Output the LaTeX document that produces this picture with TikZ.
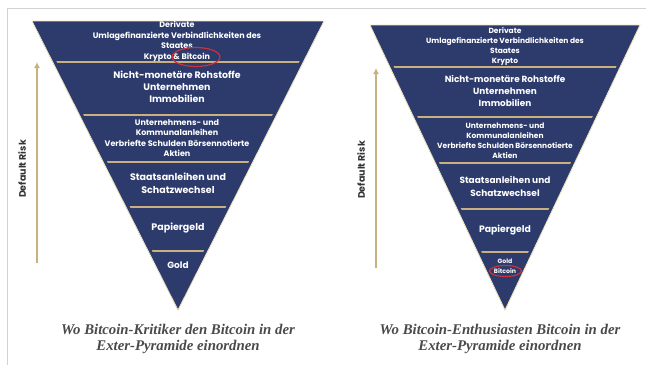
\documentclass[tikz,border=0pt]{standalone}
\usepackage{fontspec}
\setmainfont{Liberation Serif}
\newfontfamily\pyrfont{Poppins}
\definecolor{PyrNavy}{HTML}{2C3A6C}
\definecolor{BandGold}{HTML}{C9B17F}
\definecolor{EdgeCream}{HTML}{EFE6BE}
\definecolor{FrameGray}{HTML}{D2D2D2}
\definecolor{MarkRed}{HTML}{C8333D}
\definecolor{CaptionGray}{HTML}{4A4A4A}
\usetikzlibrary{arrows.meta}
\tikzset{
  band/.style={text=white, align=center, inner sep=0pt, font=\pyrfont\bfseries\fontsize{8}{10.5}\selectfont},
  bigband/.style={band, font=\pyrfont\bfseries\fontsize{9.4}{12}\selectfont},
  midband/.style={band, font=\pyrfont\bfseries\fontsize{9.5}{13}\selectfont},
  sep/.style={draw=BandGold, line width=2pt},
  risk/.style={-{Latex[length=6pt, width=6pt]}, draw=BandGold, line width=1.5pt},
  risklabel/.style={rotate=90, inner sep=0pt, font=\pyrfont\bfseries\fontsize{9.5}{10}\selectfont, text=black!80},
  caption/.style={align=center, inner sep=0pt, text=CaptionGray, font=\bfseries\itshape\fontsize{14.8}{16}\selectfont},
  redmark/.style={draw=MarkRed, line width=1.2pt}
}
\begin{document}
\begin{tikzpicture}[x=1pt, y=-1pt]
\useasboundingbox (0,0) rectangle (646,365);
\fill[white] (0,0) rectangle (646,365);
\draw[FrameGray, line width=1pt] (7,365) -- (7,8) -- (646,8);

\coordinate (ltl) at (32,21);
\coordinate (ltr) at (324,21);
\coordinate (lapex) at (178,310);
\begin{scope}
\clip (ltl) -- (ltr) -- (lapex) -- cycle;
\fill[PyrNavy] (ltl) -- (ltr) -- (lapex) -- cycle;
\foreach \y in {62,115,162,207,251} \draw[sep] (0,\y) -- (646,\y);
\draw[PyrNavy, line width=7pt] (ltl) -- (ltr) -- (lapex) -- cycle;
\end{scope}
\draw[EdgeCream, line width=0.8pt] (ltl) -- (ltr) -- (lapex) -- cycle;

\node[band] (l1) at (177,41.5) {Derivate\\Umlagefinanzierte Verbindlichkeiten des\\Staates\\Krypto \& Bitcoin};
\node[bigband] (l2) at (177,87) {Nicht-monetäre Rohstoffe\\Unternehmen\\Immobilien};
\node[band] (l3) at (177,138) {Unternehmens- und\\Kommunalanleihen\\Verbriefte Schulden Börsennotierte\\Aktien};
\node[midband] (l4) at (178,183) {Staatsanleihen und\\Schatzwechsel};
\node[midband] (l5) at (178,228) {Papiergeld};
\node[band, font=\pyrfont\bfseries\fontsize{9}{10}\selectfont] (l6) at (178,265) {Gold};
\draw[redmark] (196,57) ellipse [x radius=24, y radius=9.5];

\coordinate (lrisk0) at (37,263);
\coordinate (lrisk1) at (37,62);
\draw[risk] (lrisk0) -- (lrisk1);
\node[risklabel] (lrisk) at (22,169) {Default Risk};

\node[caption] (lcap) at (178,339) {Wo Bitcoin-Kritiker den Bitcoin in der\\Exter-Pyramide einordnen};

\coordinate (rtl) at (370,25);
\coordinate (rtr) at (640,25);
\coordinate (rapex) at (505,310);
\begin{scope}
\clip (rtl) -- (rtr) -- (rapex) -- cycle;
\fill[PyrNavy] (rtl) -- (rtr) -- (rapex) -- cycle;
\foreach \y in {67,117,163,209,252} \draw[sep] (0,\y) -- (646,\y);
\draw[PyrNavy, line width=7pt] (rtl) -- (rtr) -- (rapex) -- cycle;
\end{scope}
\draw[EdgeCream, line width=0.8pt] (rtl) -- (rtr) -- (rapex) -- cycle;

\node[band, font=\pyrfont\bfseries\fontsize{7.5}{10}\selectfont] (r1) at (505,46) {Derivate\\Umlagefinanzierte Verbindlichkeiten des\\Staates\\Krypto};
\node[bigband, font=\pyrfont\bfseries\fontsize{8.9}{12}\selectfont] (r2) at (505,91) {Nicht-monetäre Rohstoffe\\Unternehmen\\Immobilien};
\node[band, font=\pyrfont\bfseries\fontsize{7.5}{10}\selectfont] (r3) at (505,141) {Unternehmens- und\\Kommunalanleihen\\Verbriefte Schulden Börsennotierte\\Aktien};
\node[midband, font=\pyrfont\bfseries\fontsize{9}{13}\selectfont] (r4) at (505,186) {Staatsanleihen und\\Schatzwechsel};
\node[midband, font=\pyrfont\bfseries\fontsize{9.3}{13}\selectfont] (r5) at (505,230) {Papiergeld};
\node[band, font=\pyrfont\bfseries\fontsize{6.2}{10}\selectfont] (r6) at (505,266) {Gold\\Bitcoin};
\draw[redmark] (505.5,271) ellipse [x radius=16, y radius=5.5];

\coordinate (rrisk0) at (376,268);
\coordinate (rrisk1) at (376,68);
\draw[risk] (rrisk0) -- (rrisk1);
\node[risklabel] (rrisk) at (361,170) {Default Risk};

\node[caption] (rcap) at (500,339) {Wo Bitcoin-Enthusiasten Bitcoin in der\\Exter-Pyramide einordnen};
\end{tikzpicture}
\end{document}
